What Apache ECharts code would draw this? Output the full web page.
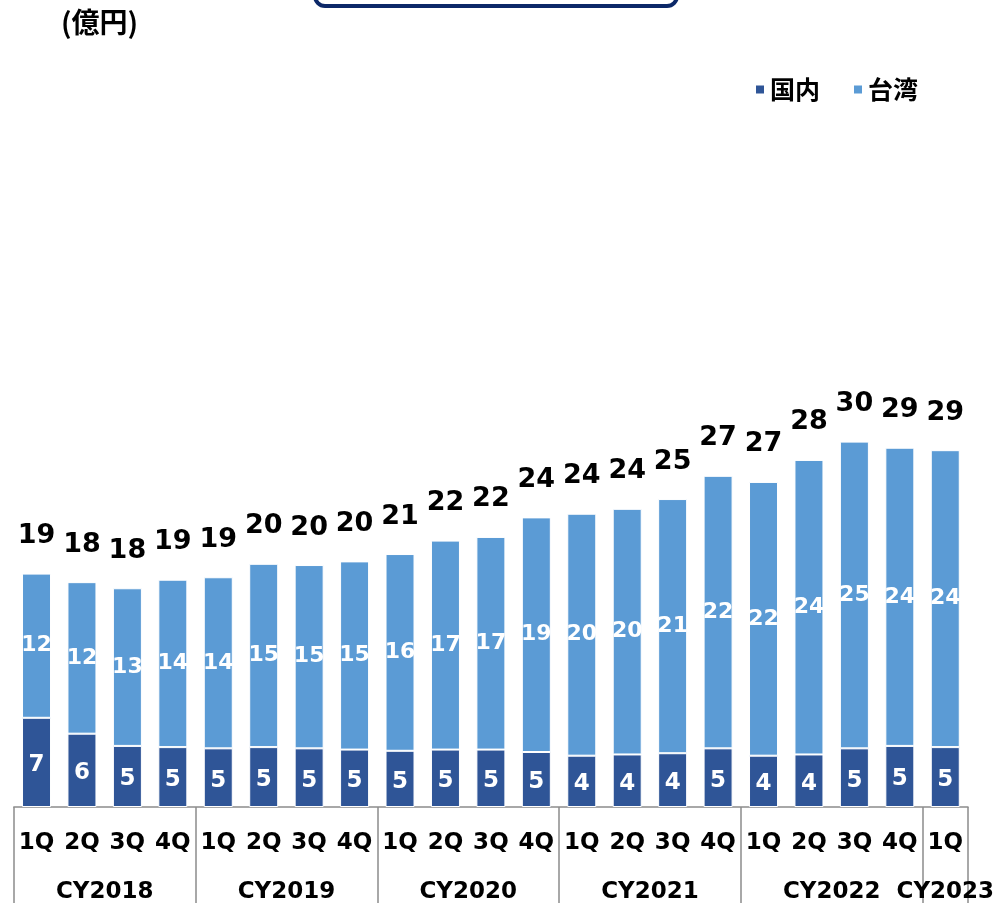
<!DOCTYPE html>
<html>
<head>
<meta charset="utf-8">
<script src="https://cdn.jsdelivr.net/npm/echarts@6/dist/echarts.min.js"></script>
<style>html,body{margin:0;padding:0;background:#fff;}#chart{width:993px;height:903px;}</style>
</head>
<body>
<div id="chart"></div>
<script>
// ---- data ----
const years = ['CY2018', 'CY2019', 'CY2020', 'CY2021', 'CY2022', 'CY2023'];
const quartersPerYear = [4, 4, 4, 4, 4, 1];
const quarterNames = ['1Q', '2Q', '3Q', '4Q'];
const domestic = [7.3, 6.0, 5.0, 4.9, 4.8, 4.9, 4.8, 4.7, 4.6, 4.7, 4.7, 4.5, 4.2, 4.3, 4.4, 4.8, 4.2, 4.3, 4.8, 5.0, 4.9];
const taiwan   = [11.8, 12.4, 12.9, 13.7, 14.0, 15.0, 15.0, 15.4, 16.1, 17.1, 17.4, 19.2, 19.8, 20.1, 20.8, 22.3, 22.4, 24.1, 25.1, 24.4, 24.3];
const seriesNames = ['国内', '台湾'];
const unitLabel = '(億円)';

// ---- derived ----
const categories = [];
const boundaries = [0];
const yearCenters = [];
let pos = 0;
quartersPerYear.forEach(n => {
  for (let q = 0; q < n; q++) categories.push(quarterNames[q]);
  yearCenters.push(pos + n / 2);
  pos += n;
  boundaries.push(pos);
});
const totals = domestic.map((d, i) => Math.round((d + taiwan[i]) * 10) / 10);

const LATIN = 'DejaVu Sans';
const CJK = 'Noto Sans CJK JP';
const DARK = '#2f5597';
const LIGHT = '#5b9bd5';
const AXIS = '#8c8c8c';

const chart = echarts.init(document.getElementById('chart'), null, {renderer: 'canvas'});
chart.setOption({
  animation: false,
  backgroundColor: '#fff',
  title: {
    text: unitLabel, left: 56, top: 3,
    textStyle: {fontFamily: CJK, fontSize: 28, fontWeight: 'bold', color: '#000'}
  },
  legend: {
    data: seriesNames, left: 749, top: 72, icon: 'rect', itemWidth: 10, itemHeight: 10, itemGap: 32,
    textStyle: {fontFamily: CJK, fontSize: 25, fontWeight: 'bold', color: '#000'}
  },
  graphic: [{
    type: 'rect', left: 313, top: -40,
    shape: {width: 362, height: 44, r: 10},
    style: {fill: '#fff', stroke: '#0c2868', lineWidth: 4}
  }],
  grid: {left: 13.8, right: 25, top: 73.8, bottom: 96, containLabel: false, outerBoundsMode: 'none'},
  xAxis: [{
    type: 'category', data: categories, position: 'bottom',
    axisLine: {show: true, lineStyle: {color: AXIS, width: 1.5}},
    axisTick: {show: false},
    axisLabel: {margin: 25, fontFamily: LATIN, fontSize: 23, fontWeight: 'bold', color: '#000', interval: 0}
  }, {
    type: 'value', min: 0, max: categories.length, position: 'bottom',
    axisLine: {show: false}, splitLine: {show: false},
    axisTick: {show: true, customValues: boundaries, length: 96, lineStyle: {color: AXIS, width: 1.5}},
    axisLabel: {
      customValues: yearCenters, margin: 74, fontFamily: LATIN, fontSize: 23, fontWeight: 'bold', color: '#000',
      formatter: v => years[yearCenters.indexOf(v)] || ''
    }
  }],
  yAxis: {type: 'value', min: 0, max: 60, show: false},
  series: [{
    name: seriesNames[0], type: 'bar', stack: 'a', data: domestic, barWidth: 29, xAxisIndex: 0,
    itemStyle: {color: DARK, borderColor: '#fff', borderWidth: 1},
    label: {show: true, position: 'inside', formatter: p => Math.round(p.value),
      fontFamily: LATIN, fontSize: 23, fontWeight: 'bold', color: '#fff', offset: [0, 3]}
  }, {
    name: seriesNames[1], type: 'bar', stack: 'a', data: taiwan, barWidth: 29, xAxisIndex: 0,
    itemStyle: {color: LIGHT, borderColor: '#fff', borderWidth: 1},
    label: {show: true, position: 'inside', formatter: p => Math.round(p.value),
      fontFamily: LATIN, fontSize: 22, fontWeight: 'bold', color: '#fff'}
  }, {
    name: 'total', type: 'bar', data: totals, barWidth: 29, barGap: '-100%', xAxisIndex: 0, silent: true,
    itemStyle: {color: 'rgba(0,0,0,0)'},
    label: {show: true, position: 'top', distance: 24, formatter: p => Math.round(p.value),
      fontFamily: LATIN, fontSize: 27, fontWeight: 'bold', color: '#000'}
  }]
});
</script>
</body>
</html>
